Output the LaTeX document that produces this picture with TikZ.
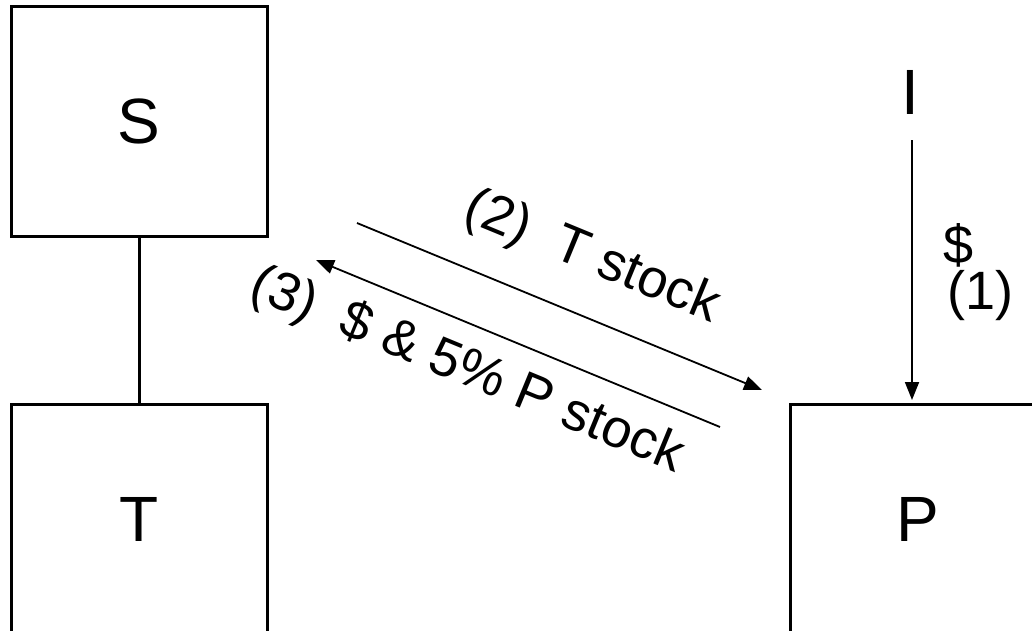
\documentclass[tikz,border=0pt]{standalone}
\usepackage{fontspec}
\setmainfont{Liberation Sans}
\usetikzlibrary{arrows.meta}
\begin{document}
\begin{tikzpicture}[x=1pt,y=-1pt,
  entity/.style={draw=black,line width=3pt,minimum width=256pt,minimum height=230pt,
    inner sep=0pt,font=\fontsize{64}{70}\selectfont},
  biglabel/.style={inner sep=0pt,font=\fontsize{64}{70}\selectfont},
  flowlabel/.style={inner sep=0pt,font=\fontsize{54}{60}\selectfont},
  link/.style={line width=3pt},
  flow/.style={line width=1.8pt,-{Triangle[length=18pt,width=14pt]}}]
  \useasboundingbox (0,0) rectangle (1032,630);
  \clip (0,0) rectangle (1032,630);
  % parties
  \node[entity] (S) at (139,121.5) {S};
  \node[entity] (T) at (139,519) {T};
  \node[entity] (P) at (918,519) {P};
  \node[biglabel] (I) at (910,92) {I};
  % ownership link
  \draw[link] (S.south) -- (T.north);
  % (1) cash from I into P
  \coordinate (iTop) at (912,140);
  \coordinate (iEnd) at (912,400);
  \draw[flow] (iTop) -- (iEnd);
  \node[flowlabel] (dollar) at (959,245) {\$};
  \node[flowlabel] (one) at (980,296) {(1)};
  % (2) T stock to P, (3) consideration back
  \coordinate (twoA) at (357,223);
  \coordinate (twoB) at (762,390);
  \coordinate (threeA) at (720,427);
  \coordinate (threeB) at (316,260);
  \draw[flow] (twoA) -- (twoB);
  \draw[flow] (threeA) -- (threeB);
  \node[flowlabel,rotate=-22.4] (two) at (592,258) {(2)\ \ T stock};
  \node[flowlabel,rotate=-22.4] (three) at (467,371) {(3)\ \ \$ \& 5\% P stock};
\end{tikzpicture}
\end{document}
